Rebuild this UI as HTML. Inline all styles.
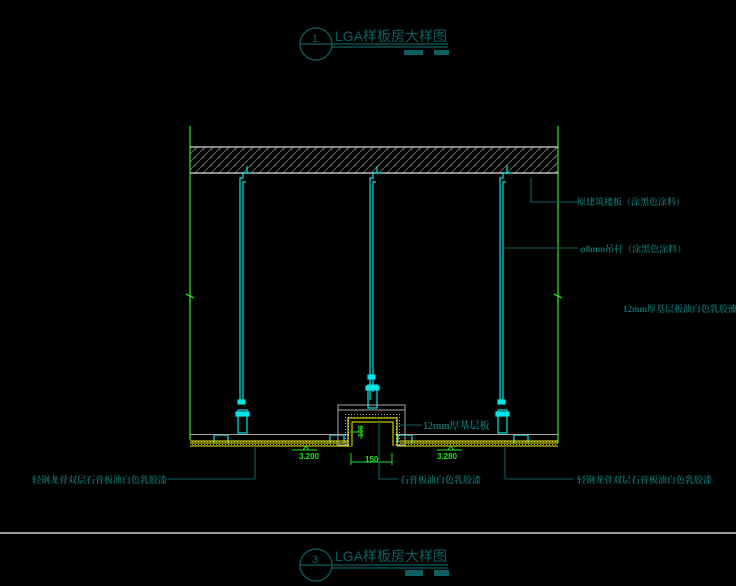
<!DOCTYPE html>
<html><head><style>body{margin:0;background:#000}svg{display:block}</style></head><body>
<svg width="736" height="586" viewBox="0 0 736 586" xmlns="http://www.w3.org/2000/svg" font-family="Liberation Sans, Noto Sans CJK SC, sans-serif">
<defs>
<pattern id="h" width="8" height="8" patternUnits="userSpaceOnUse">
<path d="M0 8L8 0" stroke="#777" stroke-width="0.8"/><rect x="3" y="5" width="1" height="1" fill="#888"/>
</pattern>
<pattern id="d" width="3" height="3" patternUnits="userSpaceOnUse"><rect width="1" height="1" fill="#aaa"/></pattern>
</defs>
<rect width="736" height="586" fill="#000"/>
<!-- title 1 -->
<g stroke="#0e6060" fill="none" stroke-width="1.3">
<circle cx="316" cy="44" r="16"/><line x1="300" y1="44" x2="448" y2="44"/><line x1="332" y1="47" x2="448" y2="47"/>
<circle cx="316" cy="565" r="16"/><line x1="300" y1="565" x2="448" y2="565"/><line x1="332" y1="568" x2="448" y2="568"/>
</g>
<g fill="#0e6060">
<rect x="404" y="50" width="19" height="5"/><rect x="434" y="50" width="15" height="5"/>
<rect x="405" y="570" width="18" height="6"/><rect x="434" y="570" width="15" height="6"/>
<text x="312" y="42" font-size="11">1</text><text x="312" y="563" font-size="11">3</text>
<text x="335" y="41" font-size="14">LGA样板房大样图</text>
<text x="335" y="561" font-size="14">LGA样板房大样图</text>
</g>
<line x1="0" y1="533" x2="736" y2="533" stroke="#999" stroke-width="2"/>
<!-- walls -->
<g stroke="#22e022" stroke-width="1.3">
<line x1="190" y1="126" x2="190" y2="440"/><line x1="558" y1="126" x2="558" y2="443"/>
<path d="M186 294l4 2l4 2M554 294l4 2l4 2" fill="none"/>
</g>
<!-- slab -->
<rect x="190" y="147" width="368" height="26" fill="url(#h)"/>
<line x1="190" y1="147" x2="558" y2="147" stroke="#ddd" stroke-width="1.2"/>
<line x1="190" y1="173" x2="558" y2="173" stroke="#ddd" stroke-width="1.2"/>
<!-- hangers -->
<g stroke="#00e5e5" fill="none" stroke-width="1.2">
<path d="M240 400V178h3v-5M243 400V182h3"/><path d="M244 173h8M247 166v7"/>
<path d="M370 400V178h3v-5M373 392V182h3"/><path d="M374 173h8M377 166v7"/>
<path d="M500 400V178h3v-5M503 400V182h3"/><path d="M504 173h8M507 166v7"/>
<rect x="238" y="410" width="9" height="23"/><rect x="236" y="412" width="13" height="4" fill="#00e5e5"/><rect x="238" y="400" width="7" height="4" fill="#00e5e5"/>
<rect x="368" y="385" width="9" height="23"/><rect x="366" y="386" width="13" height="4" fill="#00e5e5"/><rect x="368" y="375" width="7" height="4" fill="#00e5e5"/>
<rect x="498" y="410" width="9" height="23"/><rect x="496" y="412" width="13" height="4" fill="#00e5e5"/><rect x="498" y="400" width="7" height="4" fill="#00e5e5"/>
<path d="M214 443v-8h14v8M330 443v-8h14v8M398 443v-8h14v8M514 443v-8h14v8"/>
</g>
<!-- ceiling -->
<line x1="190" y1="434.5" x2="558" y2="434.5" stroke="#aaa" stroke-width="1"/>
<rect x="190" y="441" width="148" height="5" fill="url(#d)"/><rect x="405" y="441" width="153" height="5" fill="url(#d)"/>
<g stroke="#f0f000" stroke-width="1.1" fill="none">
<path d="M190 441H348M190 443H348M190 446H352M400 441H558M400 443H558M397 446H558"/>
<path d="M348 446V418H397V446M352 446V422H393V446"/>
</g>
<rect x="338" y="405" width="67" height="5" fill="none" stroke="#aaa"/>
<rect x="338" y="410" width="67" height="35" fill="none" stroke="#aaa"/>
<rect x="344" y="413" width="56" height="33" fill="url(#d)"/>
<rect x="349" y="419" width="46" height="27" fill="#000"/>
<path d="M348 446V418H397V446M352 446V422H393V446" stroke="#f0f000" fill="none"/>
<!-- dims -->
<g stroke="#22e022" fill="none">
<path d="M292 450h25M437 450h25M351 453V465M392 453V465M351 462h41M360 432h-10M361 426v13"/>
<path d="M303 450l3-4l3 4M448 450l3-4l3 4"/>
</g>
<g fill="#22e022" font-size="8" font-weight="bold">
<text x="299" y="459">3.200</text><text x="437" y="459">3.280</text><text x="365" y="462">150</text>
<text x="0" y="0" transform="translate(363,437) rotate(-90)" font-size="7">100</text>
</g>
<!-- leaders -->
<g stroke="#0e6060" fill="none" stroke-width="1.1">
<path d="M531 178V202H578"/><path d="M503 248H578"/><path d="M728 308H736"/>
<path d="M255 446V479H168"/><path d="M379 420V479H398"/><path d="M505 446V479H573"/>
<path d="M397 425H422"/>
</g>
<g fill="#126868" font-size="9" font-family="Liberation Serif, Noto Serif CJK SC, serif" font-weight="bold">
<text x="577" y="205">原建筑楼板（涂黑色涂料）</text>
<text x="580" y="252">φ8mm吊杆（涂黑色涂料）</text>
<text x="623" y="312">12mm厚基层板油白色乳胶漆</text>
<text x="423" y="429" font-size="10">12mm厚基层板</text>
<text x="32" y="483">轻钢龙骨双层石膏板油白色乳胶漆</text>
<text x="400" y="483">石膏板油白色乳胶漆</text>
<text x="577" y="483">轻钢龙骨双层石膏板油白色乳胶漆</text>
</g>
</svg>
</body></html>
